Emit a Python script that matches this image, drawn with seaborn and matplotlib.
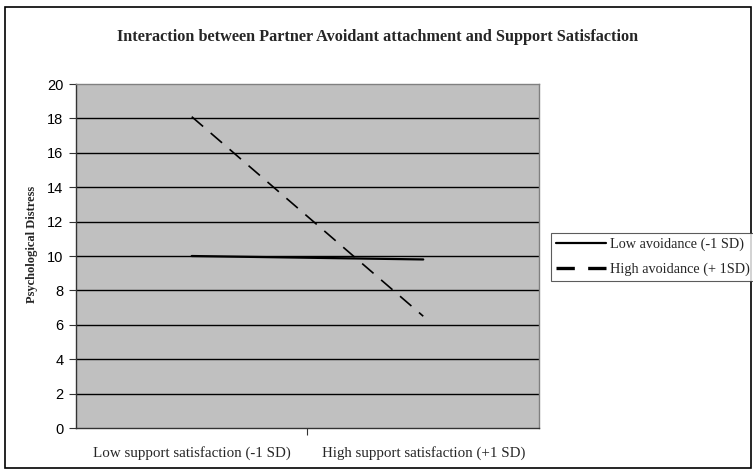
import matplotlib
matplotlib.use("Agg")
import matplotlib.pyplot as plt
import seaborn as sns
import pandas as pd
from matplotlib.patches import Rectangle
from matplotlib.lines import Line2D

# Simple slopes at -1 SD / +1 SD of support satisfaction
conditions = ["Low support satisfaction (-1 SD)", "High support satisfaction (+1 SD)"]
groups = ["Low avoidance (-1 SD)", "High avoidance (+ 1SD)"]
low_avoidance = [10.0, 9.8]
high_avoidance = [18.1, 6.5]
y_ticks = [0, 2, 4, 6, 8, 10, 12, 14, 16, 18, 20]

df = pd.DataFrame({
    "condition": conditions * 2,
    "group": [groups[0]] * 2 + [groups[1]] * 2,
    "distress": low_avoidance + high_avoidance,
})

sns.set_theme(style="white")
serif = ["Liberation Serif", "DejaVu Serif"]
sans = ["Liberation Sans", "DejaVu Sans"]

fig = plt.figure(figsize=(7.53, 4.72), dpi=100)
ax = fig.add_axes([0.1009, 0.0932, 0.6149, 0.7288])
ax.set_facecolor("#C0C0C0")

# outer chart frame
fig.patches.append(Rectangle((0.007, 0.008), 0.99, 0.978, transform=fig.transFigure,
                             fill=False, edgecolor="black", linewidth=1.2))

for y in y_ticks[1:-1]:
    ax.axhline(y, color="black", linewidth=1.0, zorder=1)

sns.lineplot(data=df, x="condition", y="distress", hue="group", style="group",
             palette=["black", "black"], dashes=[(None, None), (9, 6)],
             size="group", sizes=[1.6, 1.2], ax=ax, legend=False, zorder=3,
             sort=False)

ax.set_xlim(-0.5, 1.5)
ax.set_ylim(0, 20)
ax.set_yticks(y_ticks)
ax.set_yticklabels([str(t) for t in y_ticks], fontfamily=sans, fontsize=10.5)
ax.set_xticks([0.5])
ax.set_xticklabels([""])
ax.tick_params(axis="both", which="both", direction="out", length=5, width=0.8,
               colors="#333333", left=True, bottom=True)
ax.tick_params(axis="y", labelcolor="black", pad=4)
for i, c in enumerate(conditions):
    ax.text(i, -1.45, c, ha="center", va="center", fontfamily=serif, fontsize=10.8,
            transform=ax.transData)

for side in ["left", "bottom"]:
    ax.spines[side].set_color("#333333")
    ax.spines[side].set_linewidth(1.0)
for side in ["top", "right"]:
    ax.spines[side].set_color("#808080")
    ax.spines[side].set_linewidth(1.0)

ax.set_xlabel("")
ax.set_ylabel("")
fig.text(32 / 753, 1 - 244 / 472, "Psychological Distress", rotation=90,
         ha="center", va="center", fontfamily=serif, fontsize=9, fontweight="bold")

fig.text(0.502, 0.922, "Interaction between Partner Avoidant attachment and Support Satisfaction",
         ha="center", va="center", fontfamily=serif, fontsize=11.7, fontweight="bold")

handles = [Line2D([], [], color="black", linewidth=1.6),
           Line2D([], [], color="black", linewidth=2.4, dashes=(5.5, 4))]
leg = fig.legend(handles, groups, loc="upper left", bbox_to_anchor=(551 / 753, 1 - 233 / 472),
                 prop={"family": serif, "size": 10.3}, frameon=True, fancybox=False,
                 edgecolor="#333333", handlelength=3.5, handletextpad=0.3,
                 borderpad=0.35, labelspacing=0.75, borderaxespad=0)
leg.get_frame().set_linewidth(0.8)

fig.savefig("out.png", dpi=100)
